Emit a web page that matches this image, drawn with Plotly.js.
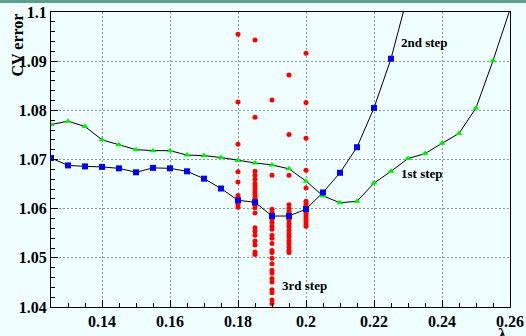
<!DOCTYPE html>
<html>
<head>
<meta charset="utf-8">
<script src="https://cdn.plot.ly/plotly-3.0.1.min.js"></script>
<style>
html,body{margin:0;padding:0;background:#eefffe;overflow:hidden;}
#chart{width:526px;height:336px;}
</style>
</head>
<body>
<div id="chart"></div>
<script>
// 1st step (green triangles)
const step1X = [0.125,0.130,0.135,0.140,0.145,0.150,0.155,0.160,0.165,0.170,0.175,0.180,0.185,0.190,0.195,0.200,0.205,0.210,0.215,0.220,0.225,0.230,0.235,0.240,0.245,0.250,0.255,0.260];
const step1Y = [1.0771,1.0778,1.0767,1.0740,1.0730,1.0720,1.0718,1.0718,1.0709,1.0708,1.0704,1.0698,1.0693,1.0689,1.0681,1.0656,1.0626,1.0612,1.0615,1.0652,1.0676,1.0702,1.0712,1.0733,1.0753,1.0805,1.0901,1.1005];

// 2nd step (blue squares)
const step2X = [0.125,0.130,0.135,0.140,0.145,0.150,0.155,0.160,0.165,0.170,0.175,0.180,0.185,0.190,0.195,0.200,0.205,0.210,0.215,0.220,0.225,0.230];
const step2Y = [1.0703,1.0688,1.0686,1.0685,1.0682,1.0674,1.0683,1.0682,1.0676,1.0661,1.0641,1.0617,1.0613,1.0585,1.0585,1.0599,1.0633,1.0673,1.0725,1.0805,1.0905,1.1036];

// 3rd step (red circles), per lambda column
const step3X = [
  0.180,0.180,0.180,0.180,0.180,0.180,0.180,0.180,0.180,0.180,
  0.185,0.185,0.185,0.185,0.185,0.185,0.185,0.185,0.185,0.185,0.185,0.185,0.185,0.185,0.185,0.185,0.185,0.185,0.185,0.185,0.185,0.185,0.185,
  0.190,0.190,0.190,0.190,0.190,0.190,0.190,0.190,0.190,0.190,0.190,0.190,0.190,0.190,0.190,0.190,0.190,0.190,0.190,0.190,0.190,0.190,0.190,0.190,
  0.195,0.195,0.195,0.195,0.195,0.195,0.195,0.195,0.195,0.195,0.195,0.195,0.195,0.195,0.195,0.195,0.195,0.195,
  0.200,0.200,0.200,0.200,0.200,0.200,0.200,0.200,0.200,0.200,0.200,0.200,0.200,0.200,0.200,0.200
];
const step3Y = [
  1.0955,1.0817,1.0731,1.0675,1.0654,1.0627,1.0621,1.0615,1.0609,1.0603,
  1.0943,1.0786,1.0676,1.0668,1.0660,1.0651,1.0646,1.0640,1.0634,1.0629,1.0623,1.0618,1.0613,1.0607,1.0602,1.0591,1.0561,1.0554,1.0546,1.0534,1.0526,1.0512,1.0507,
  1.0821,1.0668,1.0599,1.0593,1.0585,1.0579,1.0572,1.0564,1.0558,1.0546,1.0540,1.0529,1.0515,1.0511,1.0499,1.0488,1.0475,1.0469,1.0458,1.0451,1.0435,1.0429,1.0414,1.0407,
  1.0872,1.0751,1.0668,1.0608,1.0600,1.0593,1.0585,1.0577,1.0570,1.0563,1.0556,1.0549,1.0543,1.0536,1.0529,1.0522,1.0515,1.0511,
  1.0916,1.0816,1.0743,1.0678,1.0642,1.0615,1.0610,1.0605,1.0600,1.0595,1.0590,1.0585,1.0580,1.0574,1.0569,1.0564
];

const xTicks = [0.14,0.16,0.18,0.20,0.22,0.24,0.26];
const xTickText = ["0.14","0.16","0.18","0.2","0.22","0.24","0.26"];
const yTicks = [1.04,1.05,1.06,1.07,1.08,1.09,1.10];
const yTickText = ["1.04","1.05","1.06","1.07","1.08","1.09","1.1"];

const serif = "Liberation Serif, Times New Roman, serif";
const bg = "#eefffe";

const traces = [
  {x: step3X, y: step3Y, type: "scatter", mode: "markers",
   marker: {symbol: "circle", size: 5, color: "#ff0000"}, hoverinfo: "skip"},
  {x: step1X, y: step1Y, type: "scatter", mode: "lines+markers",
   line: {color: "#000000", width: 1},
   marker: {symbol: "triangle-up", size: 6, color: "#00ee00"}},
  {x: step2X, y: step2Y, type: "scatter", mode: "lines+markers",
   line: {color: "#000000", width: 1},
   marker: {symbol: "square", size: 6, color: "#0000ff"}}
];

const axisCommon = {
  showline: true, linecolor: "#000", linewidth: 1, mirror: true,
  ticks: "inside", ticklen: 7, tickcolor: "#000", tickwidth: 1,
  showgrid: true, gridcolor: "#8a9a9a", gridwidth: 1, griddash: "2px,2px",
  zeroline: false,
  tickfont: {family: serif, size: 16, color: "#000", weight: "bold"}
};

const layout = {
  width: 526, height: 336,
  margin: {l: 51, r: 16, t: 12, b: 29, pad: 0},
  paper_bgcolor: bg, plot_bgcolor: bg,
  showlegend: false,
  xaxis: Object.assign({}, axisCommon, {
    range: [0.125, 0.26], tickmode: "array", tickvals: xTicks, ticktext: xTickText,
    minor: {ticks: "inside", ticklen: 4, tickcolor: "#000", dtick: 0.005, tick0: 0, showgrid: false}
  }),
  yaxis: Object.assign({}, axisCommon, {
    range: [1.04, 1.10], tickmode: "array", tickvals: yTicks, ticktext: yTickText,
    minor: {ticks: "inside", ticklen: 4, tickcolor: "#000", dtick: 0.002, tick0: 0, showgrid: false}
  }),
  shapes: [
    {type: "rect", xref: "paper", yref: "paper", x0: -0.2, x1: 1.1, y0: 1.0305, y1: 1.06,
     fillcolor: "#5fa08c", line: {width: 0}, layer: "above"}
  ],
  annotations: [
    {text: "CV error", xref: "paper", yref: "paper", x: -0.074, y: 1, xanchor: "center", yanchor: "top",
     textangle: -90, showarrow: false, font: {family: serif, size: 16, color: "#000", weight: "bold"}},
    {text: "λ", xref: "paper", yref: "paper", x: 0.9847, y: -0.055, xanchor: "center", yanchor: "top",
     showarrow: false, font: {family: serif, size: 17, color: "#000", weight: "bold"}},
    {text: "2nd step", xref: "x", yref: "y", x: 0.2349, y: 1.0938, xanchor: "center", yanchor: "middle",
     showarrow: false, font: {family: serif, size: 13, color: "#000", weight: "bold"}},
    {text: "1st step", xref: "x", yref: "y", x: 0.2341, y: 1.0672, xanchor: "center", yanchor: "middle",
     showarrow: false, font: {family: serif, size: 13, color: "#000", weight: "bold"}},
    {text: "3rd step", xref: "x", yref: "y", x: 0.1997, y: 1.0444, xanchor: "center", yanchor: "middle",
     showarrow: false, font: {family: serif, size: 13, color: "#000", weight: "bold"}}
  ]
};

Plotly.newPlot("chart", traces, layout, {displayModeBar: false, staticPlot: true});
</script>
</body>
</html>
